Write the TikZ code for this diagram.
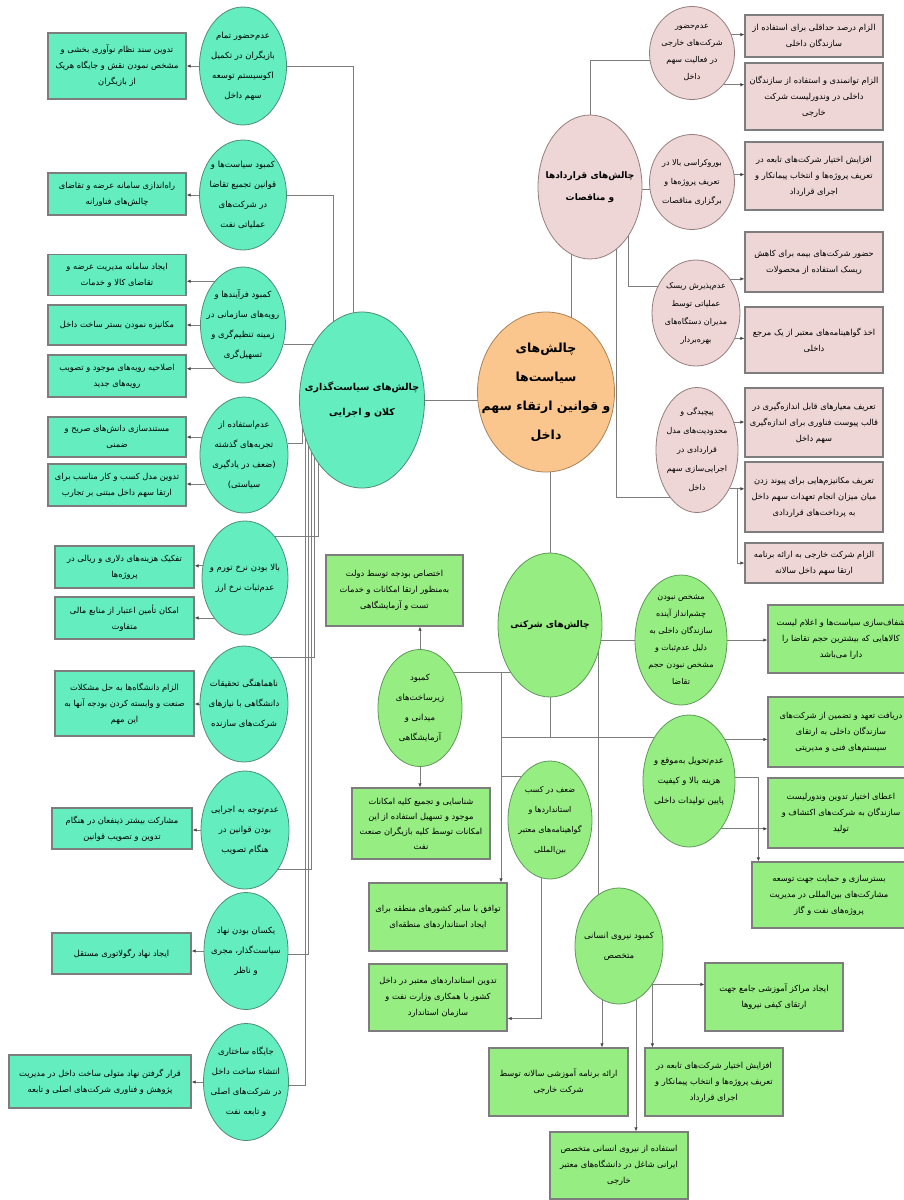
\documentclass[tikz,border=0pt]{standalone}
\usepackage{fontspec}
\newfontfamily\fa[Script=Arabic]{DejaVu Sans}
\TeXXeTstate=1
\usetikzlibrary{shapes.geometric,arrows.meta,calc}
\pgfdeclarelayer{background}
\pgfsetlayers{background,main}
\newcommand\Rl[1]{\beginR#1\endR}
\definecolor{tq}{RGB}{100,238,192}
\definecolor{tqd}{RGB}{80,140,115}
\definecolor{pk}{RGB}{238,214,214}
\definecolor{pkd}{RGB}{150,125,125}
\definecolor{og}{RGB}{250,198,142}
\definecolor{ogd}{RGB}{170,130,90}
\definecolor{lg}{RGB}{150,238,130}
\definecolor{lgd}{RGB}{95,150,90}
\definecolor{ln}{RGB}{125,125,125}
\definecolor{ar}{RGB}{70,70,70}
\tikzset{
  wh/.style 2 args={minimum width=#1,minimum height=#2},
  base/.style={align=center, inner sep=1pt, text=black},
  circ/.style={base, ellipse, draw, line width=0.8pt, inner xsep=-30pt, inner ysep=-20pt, font=\fa\fontsize{8.5}{20}\selectfont},
  boxb/.style={base, rectangle, draw=ln, line width=1.2pt, font=\fa\fontsize{8.3}{16}\selectfont},
  tqc/.style={circ, fill=tq, draw=tqd},
  tqb/.style={boxb, fill=tq},
  pkc/.style={circ, fill=pk, draw=pkd},
  pkb/.style={boxb, fill=pk},
  lgc/.style={circ, fill=lg, draw=lgd},
  lgb/.style={boxb, fill=lg},
  conn/.style={draw=ln, line width=0.7pt},
  arr/.style={conn, -{Latex[length=4pt,width=3.5pt,color=ar]}},
}
\begin{document}
\begin{tikzpicture}[x=1pt,y=-1pt]
\useasboundingbox (0,0) rectangle (903,1200);

% ===== central node =====
\node[circ, draw=ogd, fill=og, wh={137}{160}, font=\fa\bfseries\fontsize{12.5}{29}\selectfont] (O) at (546,392)
  {\Rl{چالش^^^^200cهای}\\\Rl{سیاست^^^^200cها}\\\Rl{و قوانین ارتقاء سهم}\\\Rl{داخل}};

% ===== left branch =====
\node[tqc, wh={125}{176}, font=\fa\bfseries\fontsize{9.5}{25}\selectfont] (L) at (362,400)
  {\Rl{چالش^^^^200cهای سیاست^^^^200cگذاری}\\\Rl{کلان و اجرایی}};

\node[tqc, wh={87}{118}] (c1) at (243,66) {\Rl{عدم^^^^200cحضور تمام}\\\Rl{بازیگران در تکمیل}\\\Rl{اکوسیستم توسعه}\\\Rl{سهم داخل}};
\node[tqc, wh={87}{110}] (c2) at (243,195) {\Rl{کمبود سیاست^^^^200cها و}\\\Rl{قوانین تجمیع تقاضا}\\\Rl{در شرکت^^^^200cهای}\\\Rl{عملیاتی نفت}};
\node[tqc, wh={85}{116}] (c3) at (243,325) {\Rl{کمبود فرآیندها و}\\\Rl{رویه^^^^200cهای سازمانی در}\\\Rl{زمینه تنظیم^^^^200cگری و}\\\Rl{تسهیل^^^^200cگری}};
\node[tqc, wh={88}{116}] (c4) at (244,455) {\Rl{عدم^^^^200cاستفاده از}\\\Rl{تجربه^^^^200cهای گذشته}\\\Rl{(ضعف در یادگیری}\\\Rl{سیاستی)}};
\node[tqc, wh={86}{114}] (c5) at (245,578) {\Rl{بالا بودن نرخ تورم و}\\\Rl{عدم^^^^200cثبات نرخ ارز}};
\node[tqc, wh={88}{116}] (c6) at (244,704) {\Rl{ناهماهنگی تحقیقات}\\\Rl{دانشگاهی با نیازهای}\\\Rl{شرکت^^^^200cهای سازنده}};
\node[tqc, wh={88}{118}] (c7) at (245,830) {\Rl{عدم^^^^200cتوجه به اجرایی}\\\Rl{بودن قوانین در}\\\Rl{هنگام تصویب}};
\node[tqc, wh={84}{117}] (c8) at (246,951) {\Rl{یکسان بودن نهاد}\\\Rl{سیاست^^^^200cگذار، مجری}\\\Rl{و ناظر}};
\node[tqc, wh={85}{117}] (c9) at (246,1082) {\Rl{جایگاه ساختاری}\\\Rl{انتشاء ساخت داخل}\\\Rl{در شرکت^^^^200cهای اصلی}\\\Rl{و تابعه نفت}};

\node[tqb, wh={138}{66}] (B1) at (117,66) {\Rl{تدوین سند نظام نوآوری بخشی و}\\\Rl{مشخص نمودن نقش و جایگاه هریک}\\\Rl{از بازیگران}};
\node[tqb, wh={138}{42}] (B2) at (117,194) {\Rl{راه^^^^200cاندازی سامانه عرضه و تقاضای}\\\Rl{چالش^^^^200cهای فناورانه}};
\node[tqb, wh={138}{41}] (B3) at (117,275) {\Rl{ایجاد سامانه مدیریت عرضه و}\\\Rl{تقاضای کالا و خدمات}};
\node[tqb, wh={138}{40}] (B4) at (117,325) {\Rl{مکانیزه نمودن بستر ساخت داخل}};
\node[tqb, wh={138}{42}] (B5) at (117,376) {\Rl{اصلاحیه رویه^^^^200cهای موجود و تصویب}\\\Rl{رویه^^^^200cهای جدید}};
\node[tqb, wh={138}{40}] (B6) at (117,437) {\Rl{مستندسازی دانش^^^^200cهای صریح و}\\\Rl{ضمنی}};
\node[tqb, wh={138}{42}] (B7) at (117,485) {\Rl{تدوین مدل کسب و کار مناسب برای}\\\Rl{ارتقا سهم داخل مبتنی بر تجارب}};
\node[tqb, wh={139}{42}] (B8) at (124.5,567) {\Rl{تفکیک هزینه^^^^200cهای دلاری و ریالی در}\\\Rl{پروژه^^^^200cها}};
\node[tqb, wh={139}{42}] (B9) at (124.5,618) {\Rl{امکان تأمین اعتبار از منابع مالی}\\\Rl{متفاوت}};
\node[tqb, wh={139}{65}] (B10) at (124.5,703.5) {\Rl{الزام دانشگاه^^^^200cها به حل مشکلات}\\\Rl{صنعت و وابسته کردن بودجه آنها به}\\\Rl{این مهم}};
\node[tqb, wh={140}{41}] (B11) at (122,828.5) {\Rl{مشارکت بیشتر ذینفعان در هنگام}\\\Rl{تدوین و تصویب قوانین}};
\node[tqb, wh={139}{41}] (B12) at (121.5,953.5) {\Rl{ایجاد نهاد رگولاتوری مستقل}};
\node[tqb, wh={182}{53}] (B13) at (100,1081.5) {\Rl{قرار گرفتن نهاد متولی ساخت داخل در مدیریت}\\\Rl{پژوهش و فناوری شرکت^^^^200cهای اصلی و تابعه}};

% ===== pink branch =====
\node[pkc, wh={104}{144}, font=\fa\bfseries\fontsize{9}{22}\selectfont] (PK) at (590,187) {\Rl{چالش^^^^200cهای قراردادها}\\\Rl{و مناقصات}};
\node[pkc, wh={85}{93}, font=\fa\fontsize{8}{17}\selectfont] (P1) at (692,53) {\Rl{عدم^^^^200cحضور}\\\Rl{شرکت^^^^200cهای خارجی}\\\Rl{در فعالیت سهم}\\\Rl{داخل}};
\node[pkc, wh={85}{95}, font=\fa\fontsize{8}{19}\selectfont] (P2) at (692,182) {\Rl{بوروکراسی بالا در}\\\Rl{تعریف پروژه^^^^200cها و}\\\Rl{برگزاری مناقصات}};
\node[pkc, wh={88}{106}, font=\fa\fontsize{8}{18}\selectfont] (P3) at (696,313) {\Rl{عدم^^^^200cپذیرش ریسک}\\\Rl{عملیاتی توسط}\\\Rl{مدیران دستگاه^^^^200cهای}\\\Rl{بهره^^^^200cبردار}};
\node[pkc, wh={82}{125}, font=\fa\fontsize{8}{19}\selectfont] (P4) at (697,450) {\Rl{پیچیدگی و}\\\Rl{محدودیت^^^^200cهای مدل}\\\Rl{قراردادی در}\\\Rl{اجرایی^^^^200cسازی سهم}\\\Rl{داخل}};

\node[pkb, wh={138}{42}] (PB1) at (814,36) {\Rl{الزام درصد حداقلی برای استفاده از}\\\Rl{سازندگان داخلی}};
\node[pkb, wh={138}{67}] (PB2) at (814,96.5) {\Rl{الزام توانمندی و استفاده از سازندگان}\\\Rl{داخلی در وندورلیست شرکت}\\\Rl{خارجی}};
\node[pkb, wh={138}{68}] (PB3) at (814,176) {\Rl{افزایش اختیار شرکت^^^^200cهای تابعه در}\\\Rl{تعریف پروژه^^^^200cها و انتخاب پیمانکار و}\\\Rl{اجرای قرارداد}};
\node[pkb, wh={138}{60}] (PB4) at (814,262) {\Rl{حضور شرکت^^^^200cهای بیمه برای کاهش}\\\Rl{ریسک استفاده از محصولات}};
\node[pkb, wh={138}{66}] (PB5) at (814,340) {\Rl{اخذ گواهینامه^^^^200cهای معتبر از یک مرجع}\\\Rl{داخلی}};
\node[pkb, wh={138}{69}] (PB6) at (814,422.5) {\Rl{تعریف معیارهای قابل اندازه^^^^200cگیری در}\\\Rl{قالب پیوست فناوری برای اندازه^^^^200cگیری}\\\Rl{سهم داخل}};
\node[pkb, wh={138}{70}] (PB7) at (814,497) {\Rl{تعریف مکانیزم^^^^200cهایی برای پیوند زدن}\\\Rl{میان میزان انجام تعهدات سهم داخل}\\\Rl{به پرداخت^^^^200cهای قراردادی}};
\node[pkb, wh={138}{40}] (PB8) at (814,563) {\Rl{الزام شرکت خارجی به ارائه برنامه}\\\Rl{ارتقا سهم داخل سالانه}};

% ===== green branch =====
\node[lgc, wh={104}{144}, font=\fa\bfseries\fontsize{9}{22}\selectfont] (G) at (550,625) {\Rl{چالش^^^^200cهای شرکتی}};
\node[lgc, wh={92}{130}, font=\fa\fontsize{8}{17}\selectfont] (G1) at (681,640) {\Rl{مشخص نبودن}\\\Rl{چشم^^^^200cانداز آینده}\\\Rl{سازندگان داخلی به}\\\Rl{دلیل عدم^^^^200cثبات و}\\\Rl{مشخص نبودن حجم}\\\Rl{تقاضا}};
\node[lgc, wh={92}{132}] (G2) at (689,781) {\Rl{عدم^^^^200cتحویل به^^^^200cموقع و}\\\Rl{هزینه بالا و کیفیت}\\\Rl{پایین تولیدات داخلی}};
\node[lgc, wh={84}{117}] (G3) at (420,708) {\Rl{کمبود}\\\Rl{زیرساخت^^^^200cهای}\\\Rl{میدانی و}\\\Rl{آزمایشگاهی}};
\node[lgc, wh={84}{118}, font=\fa\fontsize{8}{20}\selectfont] (G5) at (550,820) {\Rl{ضعف در کسب}\\\Rl{استانداردها و}\\\Rl{گواهینامه^^^^200cهای معتبر}\\\Rl{بین^^^^200cالمللی}};
\node[lgc, wh={88}{116}] (G4) at (619,946) {\Rl{کمبود نیروی انسانی}\\\Rl{متخصص}};

\node[lgb, wh={146}{68}] (GB1) at (841,639) {\Rl{شفاف^^^^200cسازی سیاست^^^^200cها و اعلام لیست}\\\Rl{کالاهایی که بیشترین حجم تقاضا را}\\\Rl{دارا می^^^^200cباشد}};
\node[lgb, wh={146}{70}] (GB2) at (841,732) {\Rl{دریافت تعهد و تضمین از شرکت^^^^200cهای}\\\Rl{سازندگان داخلی به ارتقای}\\\Rl{سیستم^^^^200cهای فنی و مدیریتی}};
\node[lgb, wh={146}{70}] (GB3) at (841,813) {\Rl{اعطای اختیار تدوین وندورلیست}\\\Rl{سازندگان به شرکت^^^^200cهای اکتشاف و}\\\Rl{تولید}};
\node[lgb, wh={154}{66}] (GB4) at (829,895) {\Rl{بسترسازی و حمایت جهت توسعه}\\\Rl{مشارکت^^^^200cهای بین^^^^200cالمللی در مدیریت}\\\Rl{پروژه^^^^200cهای نفت و گاز}};
\node[lgb, wh={137}{71}] (GT) at (394.5,590.5) {\Rl{اختصاص بودجه توسط دولت}\\\Rl{به^^^^200cمنظور ارتقا امکانات و خدمات}\\\Rl{تست و آزمایشگاهی}};
\node[lgb, wh={138}{71}, font=\fa\fontsize{8.3}{15}\selectfont] (GD) at (421,823.5) {\Rl{شناسایی و تجمیع کلیه امکانات}\\\Rl{موجود و تسهیل استفاده از این}\\\Rl{امکانات توسط کلیه بازیگران صنعت}\\\Rl{نفت}};
\node[lgb, wh={138}{68}] (G5a) at (438,917) {\Rl{توافق با سایر کشورهای منطقه برای}\\\Rl{ایجاد استانداردهای منطقه^^^^200cای}};
\node[lgb, wh={138}{67}] (G5b) at (438,997.5) {\Rl{تدوین استانداردهای معتبر در داخل}\\\Rl{کشور با همکاری وزارت نفت و}\\\Rl{سازمان استاندارد}};
\node[lgb, wh={138}{68}] (G4a) at (774,997) {\Rl{ایجاد مراکز آموزشی جامع جهت}\\\Rl{ارتقای کیفی نیروها}};
\node[lgb, wh={139}{68}] (G4b) at (558.5,1082) {\Rl{ارائه برنامه آموزشی سالانه توسط}\\\Rl{شرکت خارجی}};
\node[lgb, wh={138}{68}] (G4c) at (714,1082) {\Rl{افزایش اختیار شرکت^^^^200cهای تابعه در}\\\Rl{تعریف پروژه^^^^200cها و انتخاب پیمانکار و}\\\Rl{اجرای قرارداد}};
\node[lgb, wh={138}{67}] (G4d) at (619,1165.5) {\Rl{استفاده از نیروی انسانی متخصص}\\\Rl{ایرانی شاغل در دانشگاه^^^^200cهای معتبر}\\\Rl{خارجی}};

\coordinate (tX) at (501,737);
\coordinate (g4l) at ($(G4.center)+(-17,0)$);
\coordinate (g4m) at ($(G4.center)+(17,0)$);

\begin{pgfonlayer}{background}
% main links
\draw[conn] (L.center) -- (L.center -| O.center);
\draw[conn] ($(PK.center)+(-19,0)$) -- ($(O.center)+(25,0)$);
\draw[conn] (O.center -| G.center) -- (G.center);

% left circles to L
\draw[conn] (c1.east) -| ($(L.center)+(-9,0)$);
\draw[conn] (c2.east) -| ($(L.center)+(-29,0)$);
\draw[conn] (c3.-25) -- (c3.-25 -| L.center);
\draw[conn] (c4.15) -| ($(L.center)+(-60,0)$);
\draw[conn] (c5.54) -| ($(L.center)+(-44,0)$);
\draw[conn] (c6.60) -| ($(L.center)+(-48,0)$);
\draw[conn] (c7.-50) -| ($(L.center)+(-51,0)$);
\draw[conn] (c8.-5) -| ($(L.center)+(-54,0)$);
\draw[conn] (c9.-5) -| ($(L.center)+(-57,0)$);

% left circles to boxes
\draw[arr] (c1.west) -- (c1.west -| B1.east);
\draw[arr] (c2.west) -- (c2.west -| B2.east);
\draw[arr] (c3.123) -- (c3.123 -| B3.east);
\draw[arr] (c3.west) -- (c3.west -| B4.east);
\draw[arr] (c3.237) -- (c3.237 -| B5.east);
\draw[arr] (c4.157) -- (c4.157 -| B6.east);
\draw[arr] (c4.217) -- (c4.217 -| B7.east);
\draw[arr] (c5.164) -- (c5.164 -| B8.east);
\draw[arr] (c5.232) -- (c5.232 -| B9.east);
\draw[arr] (c6.west) -- (c6.west -| B10.east);
\draw[arr] (c7.west) -- (c7.west -| B11.east);
\draw[arr] (c8.west) -- (c8.west -| B12.east);
\draw[arr] (c9.west) -- (c9.west -| B13.east);

% pink
\draw[conn] (PK.center) |- (P1.-10);
\draw[conn] (P2.-10 -| PK.center) -- (P2.-10);
\draw[conn] ($(PK.center)+(38,0)$) |- (P3.145);
\draw[conn] ($(PK.center)+(26,0)$) |- (P4.-120);
\draw[arr] (P1.25) -- (P1.25 -| PB1.west);
\draw[arr] (P1.-45) -- (P1.-45 -| PB2.west);
\draw[arr] (P2.10) -- (P2.10 -| PB3.west);
\draw[arr] (P3.45) -- (P3.45 -| PB4.west);
\draw[arr] (P3.-33) -- (P3.-33 -| PB5.west);
\draw[arr] (P4.37) -- (P4.37 -| PB6.west);
\draw[arr] (P4.-50) -- (P4.-50 -| PB7.west);
\draw[arr] ($(P4.-50)+(8,0)$) |- (PB8.west);

% green
\draw[conn] (G1.west -| G.center) -- (G1.west);
\draw[conn] (G.center) -- (G.center |- tX);
\draw[conn] (G3.46) -- (G3.46 -| G.center);
\draw[conn] (G3.46 -| tX) -- (tX) -- (tX -| G2.center);
\draw[conn] (tX) -- (tX |- G5.124) -- (G5.124);
\draw[arr] (tX |- G5.124) -- (tX |- G5a.north);
\draw[conn] ($(G.center)+(48,0)$) -- ($(G4.center)+(-21,0)$);
\draw[arr] (G5.-98) |- ($(G5b.east)+(0,21)$);
\draw[arr] (G3.north) -- (G3.north |- GT.south);
\draw[arr] (G3.south) -- (G3.south |- GD.north);
\draw[arr] (G1.east) -- (G1.east -| GB1.west);
\draw[arr] (G2.49) -- (G2.49 -| GB2.west);
\draw[arr] (G2.-56) -- (G2.-56 -| GB3.west);
\draw[arr] (G2.5) -| ($(GB4.north west)+(7,0)$);
\draw[arr] (G4.-49) -- (G4.-49 -| G4a.west);
\draw[arr] (G4.-49) -- (G4.-49 |- G4c.north);
\draw[arr] (g4l) -- (g4l |- G4b.north);
\draw[arr] (g4m) -- (g4m |- G4d.north);
\end{pgfonlayer}
\end{tikzpicture}
\end{document}
